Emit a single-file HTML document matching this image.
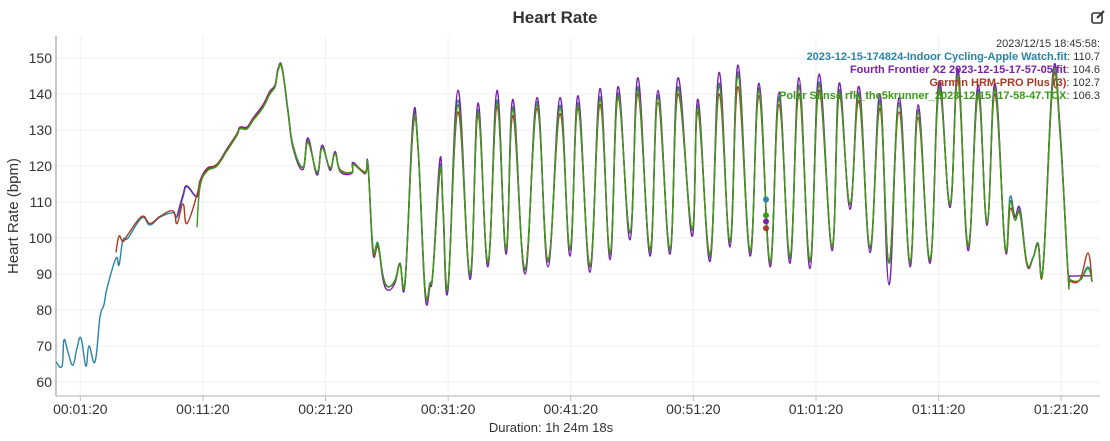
<!DOCTYPE html>
<html><head><meta charset="utf-8">
<style>
html,body{margin:0;padding:0;background:#fff;}
body{width:1110px;height:441px;overflow:hidden;font-family:"Liberation Sans",sans-serif;}
svg{display:block;}
</style></head>
<body>
<svg id="chart" width="1110" height="441">
  <text x="555" y="23" text-anchor="middle" font-size="17" font-weight="bold" fill="#333">Heart Rate</text>
  <g transform="translate(1092,11)">
    <rect x="0" y="2" width="10" height="10" rx="2" fill="none" stroke="#333" stroke-width="1.6"/>
    <path d="M5 7 L12 0" stroke="#333" stroke-width="2"/>
  </g>
  <text transform="translate(18,216) rotate(-90)" text-anchor="middle" font-size="15" fill="#333">Heart Rate (bpm)</text>
  <text x="551" y="432" text-anchor="middle" font-size="13" fill="#333">Duration: 1h 24m 18s</text>
  <g id="grid"></g>
  <g id="axes"></g>
  <g id="series"></g>
  <g id="legend"></g>
</svg>
<script>
const times = [-0.65,-0.16,0,0.33,0.73,1.06,1.39,1.79,2.04,2.53,
2.94,3.26,3.51,4.24,4.49,4.81,5.22,6.36,7.01,7.83,
8.89,9.22,9.71,10.03,10.85,11.09,11.66,12.48,13.30,14.11,
14.36,14.93,15.42,16.23,16.80,17.21,17.46,17.78,18.27,18.68,
19.49,19.90,20.64,21.05,21.70,22.11,22.52,23.49,23.58,24.55,
24.80,25.20,25.61,26.02,26.43,27.00,27.41,27.82,28.47,28.88,
29.45,29.85,30.10,30.67,30.92,31.32,32.14,33.12,33.77,34.58,
35.32,36.05,36.62,37.60,38.58,39.48,40.46,41.27,41.93,42.90,
43.72,44.54,45.19,46.17,46.82,47.80,48.45,49.43,50.08,51.22,
51.71,52.69,53.43,54.32,54.98,55.96,56.69,57.59,58.32,59.22,
59.95,60.85,61.58,62.64,63.22,64.11,64.85,65.74,66.56,67.29,
68.11,69.01,69.66,70.64,71.37,72.27,72.92,73.74,74.55,75.29,
75.94,76.76,77.16,77.57,77.98,78.55,79.04,79.45,79.86,80.67,
81.24,81.89,82.06,82.87,83.52,83.85];
const _ = null;
const appleHR = [65.6,64.4,71.7,68.3,64.7,69.4,72.2,64.4,70,65.6,
78,81.4,86,94.4,92.5,99.4,100,105.6,103.6,105.8,
107,105.8,111.4,114.2,111.4,115.6,118.9,120.3,124.4,128.6,
130.5,130.5,132.8,136.4,140.3,142,146.7,147.5,135.6,125.8,
119.7,127.2,118,125.3,119.4,123.6,118.9,118.3,120.8,118,
120.3,97.5,98.6,89.2,86.4,88.3,93,88.3,131.4,125.3,
85.6,87.5,90.6,119.7,108.6,86.4,138.3,89.7,135.6,93,
138.3,96.7,136.4,91.1,137.8,93.3,136.9,96.7,137.5,92,
139.2,95.3,140.3,101.4,142,96.1,139.7,96.7,142,102.2,
136.9,94.7,143,98.9,146.1,96.1,141.7,93,139.2,94.4,
142.5,93.3,143.3,97.5,141.1,109.2,140.3,97.2,138.3,93,
137.5,93,135.6,93.9,142,109.2,145.8,97.5,141.1,104.2,
142,97.5,111.4,105.8,107.8,93,94.7,98.6,92,145.3,
130,90.6,88.3,88.3,92,87.8];
const fourthHR = [_,_,_,_,_,_,_,_,_,_,
_,_,_,_,_,_,_,_,_,_,
_,106,112,114.5,111.5,115.8,119.3,120.5,124.8,129,
130.8,130.8,133.3,137,140.8,142.5,147,147.5,135,125,
119,127.8,117.5,125.8,118.8,124,118.5,118,121,117.8,
120.5,96,98,88.5,85.5,87.5,93,87.5,133,124.5,
84.5,86.5,91,122,107,85.5,141,88.5,137.5,92,
141,95.5,138.5,90,139,92,139,95,139.5,90.5,
141.5,94,142,99.5,144.5,95,141,95.5,144.5,100.5,
138.5,93.5,146,97.5,148,95,143,92,140.5,93,
144.5,91.5,145.5,96.5,143,108,142,96,140,87,
139,92,137,93,143.5,108.5,147,96.5,142.5,103.5,
143,97,110,106,108,92.5,94.5,98.5,92,146,
130.5,90.5,89.5,89.5,89.5,89.5];
const garminHR = [_,_,_,_,_,_,_,_,_,_,
_,_,_,96,100.5,99,101,106,104,106,
107.5,104,109.5,104,112,115.5,119,120.5,124.5,129,
130.5,130.5,133,136.5,140.5,142,146.5,147,135,125.5,
119.5,126.5,118.3,125,119.5,123.5,119,118.3,120.5,118.3,
119.8,96.5,97.5,89.5,86.5,88,92.5,88,130,124.5,
86,87.5,91,118.5,108,87,135,90,134,93.5,
136.5,97,134,91.5,136,94,134.5,97,136,92.5,
137,96,139,101.5,140,97,137.5,97,140,102.5,
135,95.5,140,99,142,96.5,139.5,93.5,137,95,
140,94,141,97.5,139.5,109.5,138,97.5,136,93.5,
135,93.5,133.5,94,140.5,109.5,144,98,139.5,104.5,
140,97.5,108,105,106.5,92.5,94.5,98,91.5,143.5,
129,90,88,88.5,95.8,88];
const polarHR = [_,_,_,_,_,_,_,_,_,_,
_,_,_,_,_,_,_,_,_,_,
_,_,_,_,103,114,118.5,120,124.2,128.5,
130.3,130.3,132.6,136.2,140,142,146.5,147.3,135.3,125.5,
119.5,126.8,118.2,125,119.3,123.4,118.8,118.2,120.4,118,
120,97,98.3,89.5,86.5,88.2,92.8,88.2,130.5,125,
85.8,87.5,90.8,119,108.3,86.5,137,90,135,93.2,
137.5,96.8,135.8,91.3,137,93.5,136.2,96.8,136.8,92.2,
138.5,95.5,139.5,101.5,141.2,96.3,139,96.8,141.3,102.3,
136.2,95,142.2,99,145.2,96.3,141,93.2,138.5,94.6,
141.8,93.5,142.5,97.6,140.4,109.3,139.6,97.3,137.6,93.2,
136.8,93.2,135,94,141.2,109.3,145,97.6,140.4,104.3,
141.3,97.6,110,105,107,93,94.5,98.5,92,144.8,
129.5,90.5,88.5,88.3,91.5,88];
const seriesNames = ["2023-12-15-174824-Indoor Cycling-Apple Watch.fit","Fourth Frontier X2 2023-12-15-17-57-05.fit","Garmin HRM-PRO Plus (3)","Polar Sense rfk_the5krunner_2023-12-15_17-58-47.TCX"];
const hoverValues = [110.7,104.6,102.7,106.3];
const hoverTime = 57.26;
const hoverLabel = "2023/12/15 18:45:58:";
const yTicks = [60,70,80,90,100,110,120,130,140,150];
const xTickTimes = [1.333,11.333,21.333,31.333,41.333,51.333,61.333,71.333,81.333];
const xTickLabels = ["00:01:20","00:11:20","00:21:20","00:31:20","00:41:20","00:51:20","01:01:20","01:11:20","01:21:20"];

const colors = ["#2a84a6","#7a1fa8","#a63a22","#3a9a1a"];
const NS = "http://www.w3.org/2000/svg";
const L = 56, R = 1100, T = 36, B = 396;
const xMin = -0.65, xMax = 84.5;
function xs(m){ return L + (m - xMin) / (xMax - xMin) * (R - L); }
function ys(v){ return 58 + (150 - v) * 3.6; }
function mk(tag, attrs, parent){ const e = document.createElementNS(NS, tag); for (const k in attrs) e.setAttribute(k, attrs[k]); parent.appendChild(e); return e; }

const grid = document.getElementById('grid');
const axes = document.getElementById('axes');
yTicks.forEach(v => {
  const g = mk('line', {x1:L, x2:R, y1:ys(v), y2:ys(v), stroke:'#f0f0f0', 'stroke-width':1}, grid);
  
  
  const t = mk('text', {x:52, y:ys(v)+5, 'text-anchor':'end', 'font-size':14, fill:'#333'}, axes);
  t.textContent = v;
  
  
});
xTickTimes.forEach((m, i) => {
  const g = mk('line', {x1:xs(m), x2:xs(m), y1:T, y2:B, stroke:'#f0f0f0', 'stroke-width':1}, grid);
  
  
  const tk = mk('line', {x1:xs(m), x2:xs(m), y1:B, y2:B+5, stroke:'#bbb', 'stroke-width':1}, axes);
  
  
  const t = mk('text', {x:xs(m), y:414, 'text-anchor':'middle', 'font-size':14, fill:'#333'}, axes);
  t.textContent = xTickLabels[i];
  
  
});
const ya = mk('line', {x1:L, x2:L, y1:T, y2:B, stroke:'#c8c8c8', 'stroke-width':2}, axes);


const xa = mk('line', {x1:L, x2:R, y1:B, y2:B, stroke:'#c8c8c8', 'stroke-width':1.5}, axes);



function pathFor(vals){
  const pts = [];
  vals.forEach((v, i) => { if (v !== null) pts.push([xs(times[i]), ys(v)]); });
  if (!pts.length) return '';
  let d = 'M' + pts[0][0].toFixed(1) + ' ' + pts[0][1].toFixed(1);
  for (let i = 0; i < pts.length - 1; i++) {
    const p0 = pts[i-1] || pts[i], p1 = pts[i], p2 = pts[i+1], p3 = pts[i+2] || p2;
    const k = 0.2;
    const c1x = p1[0] + (p2[0]-p0[0])*k, c1y = p1[1] + (p2[1]-p0[1])*k;
    const c2x = p2[0] - (p3[0]-p1[0])*k, c2y = p2[1] - (p3[1]-p1[1])*k;
    d += ' C' + c1x.toFixed(1)+' '+c1y.toFixed(1)+' '+c2x.toFixed(1)+' '+c2y.toFixed(1)+' '+p2[0].toFixed(1)+' '+p2[1].toFixed(1);
  }
  return d;
}
const seriesG = document.getElementById('series');
const allSeries = [appleHR, fourthHR, garminHR, polarHR];
const seriesKeys = ['apple-watch-line','fourth-frontier-line','garmin-hrm-line','polar-sense-line'];
allSeries.forEach((vals, i) => {
  const p = mk('path', {d:pathFor(vals), fill:'none', stroke:colors[i], 'stroke-width':1.4, 'stroke-linejoin':'round'}, seriesG);
  
  
});
hoverValues.forEach((v, i) => {
  const c = mk('circle', {cx:xs(hoverTime), cy:ys(v), r:3, fill:colors[i]}, seriesG);
  
  
});

const lg = document.getElementById('legend');
const hd = mk('text', {x:1100, y:47, 'text-anchor':'end', 'font-size':11, fill:'#333'}, lg);
hd.textContent = hoverLabel;


seriesNames.forEach((n, i) => {
  const t = mk('text', {x:1100, y:60 + i*13, 'text-anchor':'end', 'font-size':11}, lg);
  const a = mk('tspan', {fill:colors[i], 'font-weight':'bold'}, t);
  a.textContent = n;
  const b = mk('tspan', {fill:'#333'}, t);
  b.textContent = ': ' + hoverValues[i];
  
  
});
</script>
</body></html>
